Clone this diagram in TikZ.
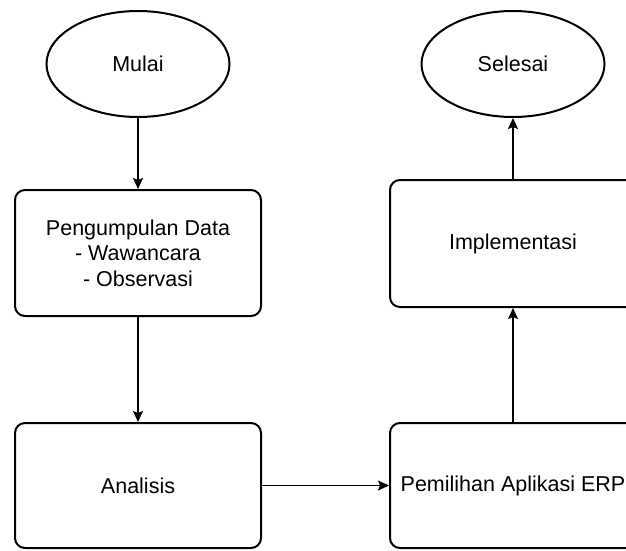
\documentclass[tikz,border=0pt]{standalone}
\usepackage{fontspec}
\setmainfont{Liberation Sans}
\usetikzlibrary{arrows.meta,shapes}

\begin{document}
\begin{tikzpicture}[x=1pt,y=1pt,
    langkah/.style={draw,line width=2pt,rounded corners=10pt,minimum width=246pt,align=center,inner sep=0pt},
    ujung/.style={draw,ellipse,line width=2pt,minimum width=183pt,minimum height=106pt,inner sep=0pt},
    panah/.style={line width=1.4pt,-{Stealth[length=11pt,width=10pt,inset=2pt]}}]
        \useasboundingbox (0,0) rectangle (626,550);
        \clip (0,0) rectangle (626,550);
        \fontsize{21.5}{25.5}\selectfont
        \node[ujung] (mulai) at (138,486) {Mulai};
        \node[langkah,minimum height=126pt] (data) at (138,297) {Pengumpulan Data\\- Wawancara\\- Observasi};
        \node[langkah,minimum height=125pt] (analisis) at (138,64.5) {Analisis};
        \node[langkah,minimum height=125pt] (pilih) at (513,64.5) {Pemilihan Aplikasi ERP};
        \node[langkah,minimum height=127pt] (impl) at (513,306.5) {Implementasi};
        \node[ujung] (selesai) at (513,486) {Selesai};
        % alur
        \draw[panah] (mulai) -- (data);
        \draw[panah] (data) -- (analisis);
        \draw[panah] (analisis) -- (pilih);
        \draw[panah] (pilih) -- (impl);
        \draw[panah] (impl) -- (selesai);
      \end{tikzpicture}
\end{document}
